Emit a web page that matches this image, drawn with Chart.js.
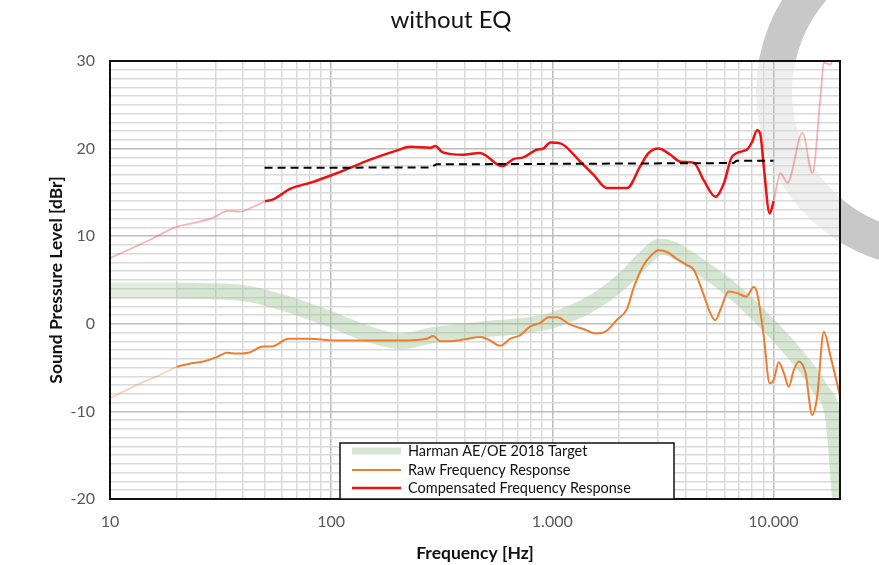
<!DOCTYPE html>
<html lang="en">
<head>
    <meta charset="UTF-8">
    <title>without EQ</title>
    <script src="https://cdn.jsdelivr.net/npm/chart.js"></script>
    <style>
        html, body {
            margin: 0;
            padding: 0;
            background: #fff;
        }
        .wrap {
            position: relative;
            width: 879px;
            height: 565px;
        }
    </style>
</head>
<body>
    <div class="wrap"><canvas id="frChart"></canvas></div>

    <script>
        // Harman AE/OE 2018 target (below 20 Hz drawn lighter)
        const harmanLowFreq = [10, 20];
        const harmanLowLevel = [3.8, 3.8];
        const harmanFreq = [20, 30, 40, 50, 72, 100, 145, 205, 290, 500, 750, 1000, 1400, 1750, 2180, 2600, 3080, 3420, 4670, 6170, 8730, 12360, 16330, 18750, 20000];
        const harmanLevel = [3.8, 3.7, 3.5, 3.0, 1.8, 0.5, -1.1, -2.0, -1.3, -0.6, -0.2, 0.4, 1.9, 3.4, 5.4, 7.4, 8.8, 8.6, 6.5, 4.3, 0.8, -3.3, -7.5, -11.3, -20];

        // raw measurement
        const rawLowFreq = [10, 13.7, 16.3, 20];
        const rawLowLevel = [-8.5, -6.8, -6.0, -4.9];
        const rawFreq = [20, 23.4, 26.4, 30.4, 33.7, 37.4, 42.2, 49.4, 53.9, 64.1, 80.3, 102, 145, 205, 271, 290, 311, 345, 397, 472, 515, 582, 646, 717, 795, 883, 962, 1050, 1206, 1386, 1567, 1738, 1962, 2178, 2333, 2589, 2775, 3027, 3304, 3666, 4067, 4357, 4838, 5186, 5467, 5754, 6275, 6852, 7546, 8146, 8440, 9040, 9617, 10027, 10570, 11140, 11730, 12360, 13020, 13970, 14970, 15770, 16900, 18110, 20000];
        const rawLevel = [-4.9, -4.5, -4.3, -3.8, -3.3, -3.4, -3.3, -2.6, -2.6, -1.7, -1.7, -1.9, -1.9, -1.9, -1.7, -1.4, -2.0, -2.0, -1.8, -1.5, -1.8, -2.5, -1.7, -1.3, -0.3, 0.1, 0.76, 0.76, -0.1, -0.6, -1.1, -0.9, 0.46, 1.7, 4.1, 6.7, 7.7, 8.4, 8.2, 7.4, 6.7, 6.2, 3.3, 1.2, 0.4, 1.6, 3.7, 3.5, 3.1, 4.2, 3.5, -1.4, -6.8, -6.4, -4.4, -5.6, -7.2, -5.3, -4.3, -5.6, -10.4, -8.3, -0.9, -3.7, -8.2];

        // compensated response (solid 50 Hz - 10 kHz, faded outside)
        const compLowFreq = [10, 15.2, 20.1, 23.8, 29.2, 34.2, 38.7, 44, 50.3];
        const compLowLevel = [7.5, 9.6, 11.1, 11.5, 12.1, 12.9, 12.8, 13.3, 14.0];
        const compFreq = [50.3, 54.7, 65.2, 83, 98.9, 122, 145, 199, 228, 281, 296, 318, 395, 472, 508, 564, 594, 626, 667, 740, 855, 910, 979, 1087, 1340, 1538, 1767, 2178, 2500, 2729, 3027, 3420, 3795, 4357, 4838, 5467, 5962, 6505, 7605, 8016, 8440, 8733, 9040, 9617, 10027];
        const compLevel = [14.0, 14.2, 15.4, 16.2, 16.9, 17.8, 18.6, 19.8, 20.2, 20.1, 20.3, 19.6, 19.3, 19.5, 19.1, 18.2, 18.0, 18.3, 18.8, 19.0, 19.9, 20.0, 20.7, 20.6, 18.5, 17.0, 15.5, 15.5, 18.0, 19.5, 20.0, 19.3, 18.5, 18.4, 16.4, 14.5, 16.0, 19.1, 19.9, 20.8, 22.1, 21.6, 18.0, 12.6, 14.0];
        const compHighFreq = [10027, 10758, 11570, 13530, 15000, 16330, 16900, 18110, 18430, 19000];
        const compHighLevel = [14.0, 17.2, 16.1, 21.8, 17.2, 26.0, 29.8, 29.6, 30.0, 31.0];

        // target reference level (dashed)
        const refFreq = [50, 280, 300, 6600, 6800, 10000];
        const refLevel = [17.8, 17.85, 18.2, 18.35, 18.6, 18.6];

        const decades = [10, 100, 1000, 10000];
        const legendLabels = ['Harman AE/OE 2018 Target', 'Raw Frequency Response', 'Compensated Frequency Response'];

        const xGridTicks = [];
        for (const d of [10, 100, 1000]) {
            for (let s = 1; s < 10; s++) xGridTicks.push(s * d);
        }
        xGridTicks.push(10000, 20000);

        const pts = (f, v) => f.map((x, i) => ({ x: x, y: v[i] }));
        const fmtHz = v => String(v).replace(/\B(?=(\d{3})+(?!\d))/g, '.');

        const bandColor = 'rgba(160, 192, 150, 0.42)';
        const FONT = 'Lato, "Open Sans", sans-serif';

        function line(label, data, color, width, order, extra) {
            return Object.assign({
                label: label,
                data: data,
                borderColor: color,
                backgroundColor: color,
                borderWidth: width,
                pointRadius: 0,
                fill: false,
                cubicInterpolationMode: 'monotone',
                borderCapStyle: 'butt',
                order: order
            }, extra || {});
        }

        // gray ring behind the plot, plot area washed white on top of it
        const backdrop = {
            id: 'backdrop',
            beforeDraw(chart) {
                const { ctx, chartArea: a } = chart;
                ctx.save();
                ctx.strokeStyle = '#c8c8c8';
                ctx.lineWidth = 36;
                ctx.beginPath();
                ctx.arc(932, 92, 158, 0, Math.PI * 2);
                ctx.stroke();
                ctx.fillStyle = 'rgba(255, 255, 255, 0.7)';
                ctx.fillRect(a.left, a.top, a.right - a.left, a.bottom - a.top);
                ctx.restore();
            },
            afterDraw(chart) {
                const { ctx, chartArea: a } = chart;
                ctx.save();
                ctx.strokeStyle = '#111';
                ctx.lineWidth = 2;
                ctx.strokeRect(a.left, a.top, a.right - a.left, a.bottom - a.top);

                ctx.fillStyle = '#111';
                ctx.font = '24px ' + FONT;
                ctx.textAlign = 'center';
                ctx.textBaseline = 'alphabetic';
                ctx.fillText('without EQ', 451, 28);

                // legend box
                const bx = 340, by = 443, bw = 334, bh = a.bottom - 443;
                ctx.fillStyle = '#fff';
                ctx.fillRect(bx, by, bw, bh);
                ctx.strokeStyle = '#111';
                ctx.lineWidth = 1.5;
                ctx.strokeRect(bx, by, bw, bh);
                const rows = [451, 470, 488];
                ctx.font = '14.5px ' + FONT;
                ctx.textAlign = 'left';
                ctx.textBaseline = 'middle';
                legendLabels.forEach((lbl, i) => {
                    const ds = chart.data.datasets.find(d => d.label === lbl);
                    ctx.strokeStyle = ds.borderColor;
                    ctx.lineWidth = i === 0 ? 7 : ds.borderWidth;
                    ctx.beginPath();
                    ctx.moveTo(352, rows[i]);
                    ctx.lineTo(401, rows[i]);
                    ctx.stroke();
                    ctx.fillStyle = '#111';
                    ctx.fillText(lbl, 408, rows[i]);
                });
                ctx.restore();
            }
        };

        new Chart(document.getElementById('frChart'), {
            type: 'line',
            data: {
                datasets: [
                    line('ref', pts(refFreq, refLevel), '#000', 2, 0, { borderDash: [8, 5], cubicInterpolationMode: 'default', tension: 0 }),
                    line('Compensated Frequency Response', pts(compFreq, compLevel), '#ee1111', 2.5, 1),
                    line('comp low', pts(compLowFreq, compLowLevel), 'rgba(235, 90, 90, 0.45)', 1.8, 2),
                    line('comp high', pts(compHighFreq, compHighLevel), 'rgba(235, 90, 90, 0.45)', 1.8, 2),
                    line('Raw Frequency Response', pts(rawFreq, rawLevel), '#ed7d31', 2, 3),
                    line('raw low', pts(rawLowFreq, rawLowLevel), 'rgba(237, 125, 49, 0.35)', 1.8, 3),
                    line('Harman AE/OE 2018 Target', pts(harmanFreq, harmanLevel), bandColor, 16, 4),
                    line('harman low', pts(harmanLowFreq, harmanLowLevel), 'rgba(160, 192, 150, 0.28)', 16, 5)
                ]
            },
            options: {
                responsive: true,
                maintainAspectRatio: false,
                animation: false,
                layout: { padding: { top: 61, right: 39, left: 0, bottom: 0 } },
                plugins: {
                    legend: { display: false },
                    tooltip: { enabled: false }
                },
                scales: {
                    x: {
                        type: 'logarithmic',
                        min: 10,
                        max: 20000,
                        afterBuildTicks: scale => { scale.ticks = xGridTicks.map(v => ({ value: v })); },
                        afterFit: scale => { scale.height = 66; },
                        border: { display: false },
                        grid: {
                            drawTicks: false,
                            lineWidth: 1.5,
                            color: c => decades.includes(c.tick && c.tick.value) ? '#bcbcbc' : '#dadada'
                        },
                        ticks: {
                            autoSkip: false,
                            maxRotation: 0,
                            padding: 13,
                            color: '#595959',
                            font: { family: FONT, size: 16 },
                            callback: v => decades.includes(v) ? fmtHz(v) : ''
                        },
                        title: {
                            display: true,
                            text: 'Frequency [Hz]',
                            color: '#111',
                            font: { family: FONT, size: 17.5, weight: 'bold' },
                            padding: { top: 0, bottom: 1.5 }
                        }
                    },
                    y: {
                        min: -20,
                        max: 30,
                        afterFit: scale => { scale.width = 110; },
                        border: { display: false },
                        grid: {
                            drawTicks: false,
                            lineWidth: 1.5,
                            color: c => (c.tick && c.tick.value % 10 === 0) ? '#bcbcbc' : '#dadada'
                        },
                        ticks: {
                            stepSize: 1,
                            autoSkip: false,
                            padding: 15,
                            color: '#595959',
                            font: { family: FONT, size: 16 },
                            callback: v => v % 10 === 0 ? String(v) : ''
                        },
                        title: {
                            display: true,
                            text: 'Sound Pressure Level [dBr]',
                            color: '#111',
                            font: { family: FONT, size: 17.5, weight: 'bold' },
                            padding: { top: 45.5, bottom: 0 }
                        }
                    }
                }
            },
            plugins: [backdrop]
        });
    </script>
</body>
</html>
